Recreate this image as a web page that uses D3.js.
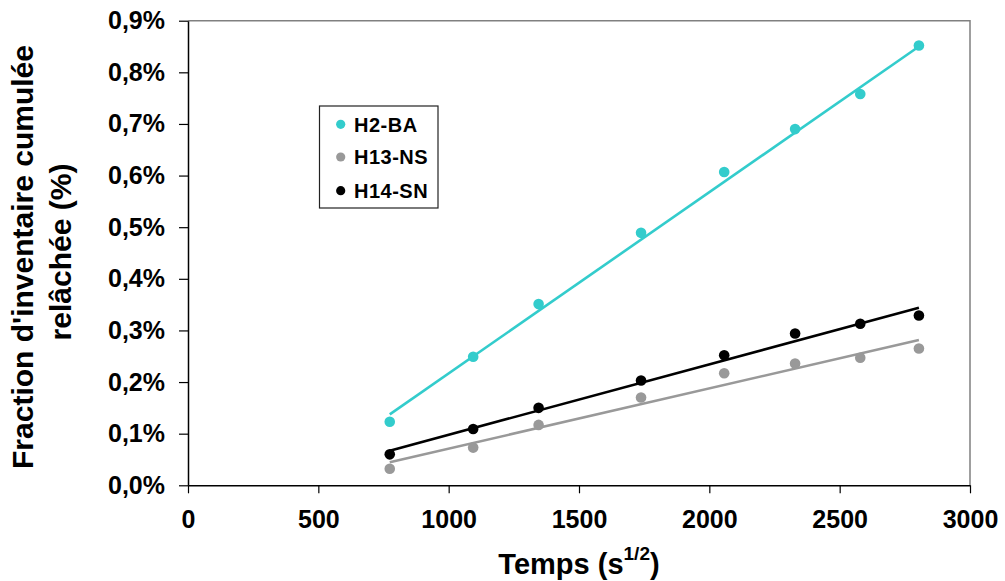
<!DOCTYPE html>
<html>
<head>
<meta charset="utf-8">
<script src="https://cdn.jsdelivr.net/npm/d3@7"></script>
<style>
  html, body { margin: 0; padding: 0; background: #fff; }
  svg { display: block; font-family: Arial, "Liberation Sans", sans-serif; font-weight: bold; }
</style>
</head>
<body>
<svg id="chart" width="1005" height="581"></svg>
<script>
// ---- data ----
const timeValues = [774, 1094, 1345, 1738, 2057, 2329, 2579, 2804];
const seriesNames = ["H2-BA", "H13-NS", "H14-SN"];
const seriesColors = ["#33CCCC", "#999999", "#000000"];
const h2ba  = [0.123, 0.249, 0.351, 0.489, 0.607, 0.690, 0.758, 0.852];
const h13ns = [0.032, 0.073, 0.117, 0.170, 0.217, 0.236, 0.247, 0.265];
const h14sn = [0.060, 0.109, 0.150, 0.203, 0.252, 0.294, 0.313, 0.329];
// trend lines: [x start, x end] and [y start, y end] per series
const trendX = [774, 2804];
const trendH2ba  = [0.1375, 0.850];
const trendH13ns = [0.0446, 0.2815];
const trendH14sn = [0.067, 0.344];
const xTicks = [0, 500, 1000, 1500, 2000, 2500, 3000];
const yTicks = [0, 0.1, 0.2, 0.3, 0.4, 0.5, 0.6, 0.7, 0.8, 0.9];
const xTitle = "Temps (s";
const xTitleSup = "1/2";
const yTitle1 = "Fraction d'inventaire cumulée";
const yTitle2 = "relâchée (%)";

const series = [
  { name: seriesNames[0], color: seriesColors[0], values: h2ba, trend: trendH2ba },
  { name: seriesNames[1], color: seriesColors[1], values: h13ns, trend: trendH13ns },
  { name: seriesNames[2], color: seriesColors[2], values: h14sn, trend: trendH14sn }
];

// ---- layout ----
const L = 188, R = 970, T = 20.7, B = 485.3;
const svg = d3.select("#chart");
const x = d3.scaleLinear().domain([0, 3000]).range([L, R]);
const y = d3.scaleLinear().domain([0, 0.9]).range([B, T]);

// frame (top & right, gray)
svg.append("path")
  .attr("d", `M${L},${T}H${R}V${B}`)
  .attr("fill", "none").attr("stroke", "#808080").attr("stroke-width", 1.5);

// x axis
const xAxis = svg.append("g").attr("transform", `translate(0,${B})`)
  .call(d3.axisBottom(x).tickValues(xTicks).tickSize(8).tickSizeOuter(0).tickPadding(17).tickFormat(d3.format("d")));
xAxis.select(".domain").attr("stroke", "#000").attr("stroke-width", 1.5);
xAxis.selectAll(".tick line").attr("stroke", "#000").attr("stroke-width", 1.2);
xAxis.selectAll(".tick text").attr("font-size", 25).attr("font-weight", "bold")
  .attr("font-family", "Arial, 'Liberation Sans', sans-serif").attr("fill", "#000");

// y axis
const yAxis = svg.append("g").attr("transform", `translate(${L},0)`)
  .call(d3.axisLeft(y).tickValues(yTicks).tickSize(9).tickSizeOuter(0).tickPadding(14)
    .tickFormat(d => d3.format(".1f")(d * 1).replace(".", ",") + "%"));
yAxis.select(".domain").attr("stroke", "#000").attr("stroke-width", 1.5);
yAxis.selectAll(".tick line").attr("stroke", "#000").attr("stroke-width", 1.2);
yAxis.selectAll(".tick text").attr("font-size", 25).attr("font-weight", "bold")
  .attr("font-family", "Arial, 'Liberation Sans', sans-serif").attr("fill", "#000");

// trend lines
const line = d3.line().x(d => x(d[0])).y(d => y(d[1]));
series.forEach(s => {
  svg.append("path")
    .datum(trendX.map((tx, i) => [tx, s.trend[i]]))
    .attr("d", line)
    .attr("fill", "none").attr("stroke", s.color).attr("stroke-width", 2.6);
});

// points
series.forEach(s => {
  svg.append("g").selectAll("circle")
    .data(timeValues.map((t, i) => [t, s.values[i]]))
    .join("circle")
    .attr("cx", d => x(d[0])).attr("cy", d => y(d[1]))
    .attr("r", 5.3).attr("fill", s.color);
});

// legend
const lg = svg.append("g");
lg.append("rect").attr("x", 319.5).attr("y", 106).attr("width", 118.5).attr("height", 102)
  .attr("fill", "#fff").attr("stroke", "#222").attr("stroke-width", 1.2);
const legY = [124.3, 157, 190.7];
series.forEach((s, i) => {
  lg.append("circle").attr("cx", 340.7).attr("cy", legY[i]).attr("r", 4.6).attr("fill", s.color);
  lg.append("text").attr("x", 354).attr("y", legY[i]).attr("dy", "0.36em")
    .attr("font-size", 20).attr("letter-spacing", 0.5).text(s.name);
});

// x title
const xt = svg.append("text").attr("x", (L + R) / 2).attr("y", 574)
  .attr("text-anchor", "middle").attr("font-size", 29);
xt.append("tspan").text(xTitle);
xt.append("tspan").attr("font-size", 19).attr("dy", -14).text(xTitleSup);
xt.append("tspan").attr("dy", 14).text(")");

// y title
svg.append("text").attr("transform", "translate(33,257) rotate(-90)")
  .attr("text-anchor", "middle").attr("font-size", 30).text(yTitle1);
svg.append("text").attr("transform", "translate(71,252) rotate(-90)")
  .attr("text-anchor", "middle").attr("font-size", 30).text(yTitle2);
</script>
</body>
</html>
